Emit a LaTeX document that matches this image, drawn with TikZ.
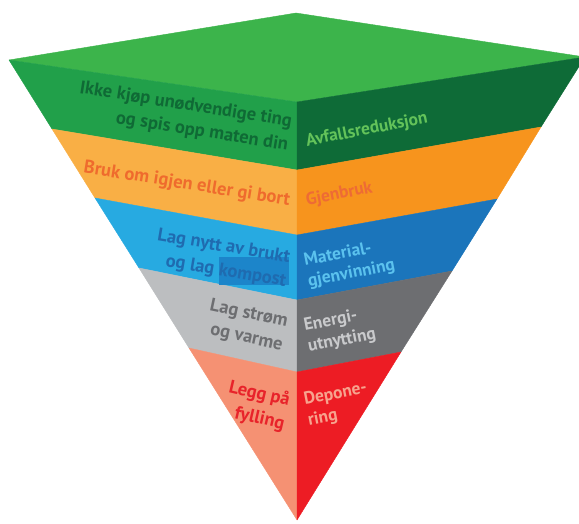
\documentclass[tikz,border=0pt]{standalone}
\usepackage{fontspec}
\setmainfont{PT Sans}
\usetikzlibrary{calc}
\definecolor{topgreen}{HTML}{3CB44B}
\definecolor{lgreen}{HTML}{21A04A}
\definecolor{rgreen}{HTML}{0E6B37}
\definecolor{lgreentext}{HTML}{0F6A35}
\definecolor{rgreentext}{HTML}{63C35A}
\definecolor{lorange}{HTML}{F9AF45}
\definecolor{rorange}{HTML}{F7941D}
\definecolor{lorangetext}{HTML}{EF6B2D}
\definecolor{rorangetext}{HTML}{EE6B35}
\definecolor{lblue}{HTML}{27AAE1}
\definecolor{rblue}{HTML}{1B75BB}
\definecolor{lbluetext}{HTML}{1F6BB0}
\definecolor{kbox}{HTML}{1C85CA}
\definecolor{rbluetext}{HTML}{5BC2EE}
\definecolor{lgray}{HTML}{BCBEC0}
\definecolor{rgray}{HTML}{6D6E71}
\definecolor{lgraytext}{HTML}{6D6E71}
\definecolor{rgraytext}{HTML}{C9CACC}
\definecolor{lred}{HTML}{F59173}
\definecolor{rred}{HTML}{ED1C24}
\definecolor{lredtext}{HTML}{E8232A}
\definecolor{rredtext}{HTML}{F7A38E}
\begin{document}
\begin{tikzpicture}[x=1pt,y=-1pt,
  face/.style={fill=#1,draw=#1,line width=0.4pt,line join=round},
  llbl/.style={font=\bfseries\fontsize{18.5}{24}\selectfont,inner sep=0pt,align=right,anchor=east},
  rlbl/.style={font=\bfseries\fontsize{17.5}{21}\selectfont,inner sep=0pt,align=left,anchor=west}]
\useasboundingbox (0,0) rectangle (579,524);
% corner points
\coordinate (L0) at (9,60);
\coordinate (B)  at (296,13);
\coordinate (R0) at (585,57);
\coordinate (F0) at (297,102);
\coordinate (F1) at (297,170);
\coordinate (F2) at (297,235);
\coordinate (F3) at (297,300);
\coordinate (F4) at (297,372);
\coordinate (A)  at (297,520);
\coordinate (L1) at (52,129);
\coordinate (L2) at (95,198);
\coordinate (L3) at (139,268);
\coordinate (L4) at (189,348);
\coordinate (R1) at (541,127);
\coordinate (R2) at (497,199);
\coordinate (R3) at (452,271);
\coordinate (R4) at (401,352);
% top face
\path[face=topgreen] (L0)--(B)--(R0)--(F0)--cycle;
% left faces
\path[face=lgreen]  (L0)--(F0)--(F1)--(L1)--cycle;
\path[face=lorange] (L1)--(F1)--(F2)--(L2)--cycle;
\path[face=lblue]   (L2)--(F2)--(F3)--(L3)--cycle;
\path[face=lgray]   (L3)--(F3)--(F4)--(L4)--cycle;
\path[face=lred]    (L4)--(F4)--(A)--cycle;
% right faces
\path[face=rgreen]  (F0)--(R0)--(R1)--(F1)--cycle;
\path[face=rorange] (F1)--(R1)--(R2)--(F2)--cycle;
\path[face=rblue]   (F2)--(R2)--(R3)--(F3)--cycle;
\path[face=rgray]   (F3)--(R3)--(R4)--(F4)--cycle;
\path[face=rred]    (F4)--(R4)--(A)--cycle;
% highlight box
\fill[kbox] (219,257) rectangle (289,285);
% left labels
\node[llbl,text=lgreentext,rotate=-9]   (t1) at (290,134) {Ikke kjøp unødvendige ting\\og spis opp maten din};
\node[llbl,text=lorangetext,rotate=-9]  (t2) at (290,201) {Bruk om igjen eller gi bort};
\node[llbl,text=lbluetext,rotate=-9.5]  (t3) at (288,270) {Lag nytt av brukt\\og lag kompost};
\node[llbl,text=lgraytext,rotate=-12]   (t4) at (285,334) {Lag strøm\\og varme};
\node[llbl,text=lredtext,rotate=-13]    (t5) at (287,413) {Legg på\\fylling};
% right labels
\node[rlbl,text=rgreentext,rotate=11]   (u1) at (306,142) {Avfallsreduksjon};
\node[rlbl,text=rorangetext,rotate=11]  (u2) at (306,201) {Gjenbruk};
\node[rlbl,text=rbluetext,rotate=11]    (u3) at (306,272) {Material-\\gjenvinning};
\node[rlbl,text=rgraytext,rotate=11]    (u4) at (306,337) {Energi-\\utnytting};
\node[rlbl,text=rredtext,rotate=11]     (u5) at (306,411) {Depone-\\ring};
\end{tikzpicture}
\end{document}
